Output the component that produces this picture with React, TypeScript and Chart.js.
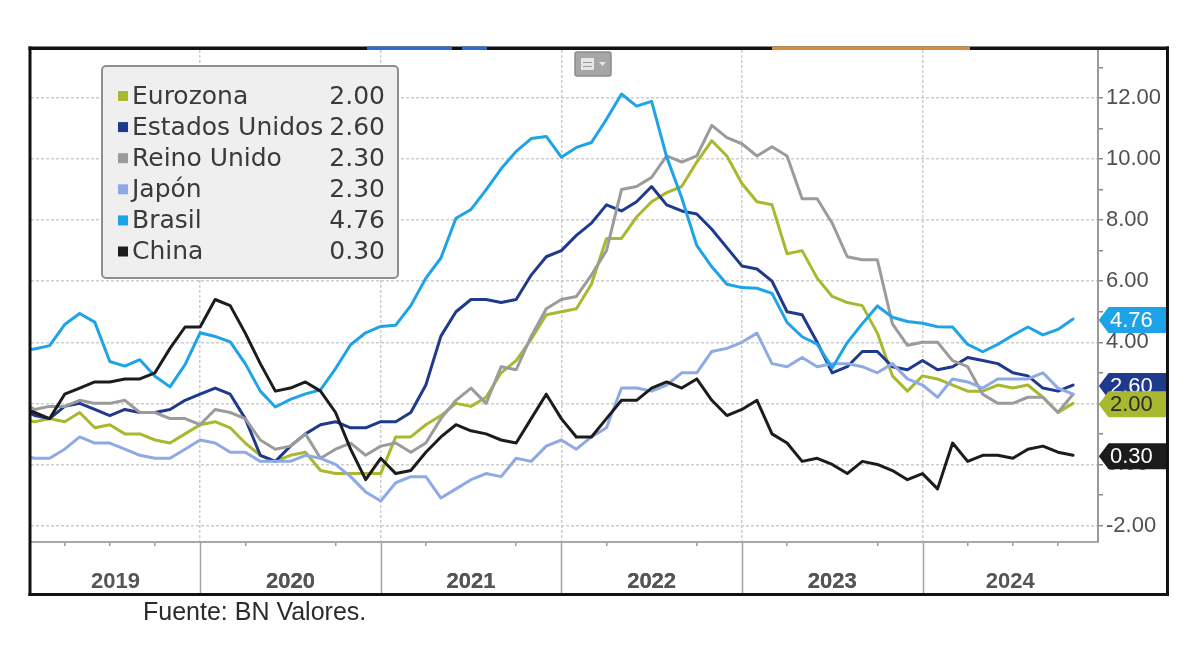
import React, { useEffect, useRef } from "react";
import { Chart, registerables } from "chart.js";

Chart.register(...registerables);

// Monthly inflation (YoY, %). Index 0 = Dec 2018, then Jan 2019 ... Oct 2024.
const firstYear = 2019;
const yearLabels = ["2019", "2020", "2021", "2022", "2023", "2024"];

const eurozona = [
  1.5,
  1.4, 1.5, 1.4, 1.7, 1.2, 1.3, 1.0, 1.0, 0.8, 0.7, 1.0, 1.3,
  1.4, 1.2, 0.7, 0.3, 0.1, 0.3, 0.4, -0.2, -0.3, -0.3, -0.3, -0.3,
  0.9, 0.9, 1.3, 1.6, 2.0, 1.9, 2.2, 3.0, 3.4, 4.1, 4.9, 5.0,
  5.1, 5.9, 7.4, 7.4, 8.1, 8.6, 8.9, 9.1, 9.9, 10.6, 10.1, 9.2,
  8.6, 8.5, 6.9, 7.0, 6.1, 5.5, 5.3, 5.2, 4.3, 2.9, 2.4, 2.9,
  2.8, 2.6, 2.4, 2.4, 2.6, 2.5, 2.6, 2.2, 1.7, 2.0,
];
const estadosUnidos = [
  1.9,
  1.6, 1.5, 1.9, 2.0, 1.8, 1.6, 1.8, 1.7, 1.7, 1.8, 2.1, 2.3,
  2.5, 2.3, 1.5, 0.3, 0.1, 0.6, 1.0, 1.3, 1.4, 1.2, 1.2, 1.4,
  1.4, 1.7, 2.6, 4.2, 5.0, 5.4, 5.4, 5.3, 5.4, 6.2, 6.8, 7.0,
  7.5, 7.9, 8.5, 8.3, 8.6, 9.1, 8.5, 8.3, 8.2, 7.7, 7.1, 6.5,
  6.4, 6.0, 5.0, 4.9, 4.0, 3.0, 3.2, 3.7, 3.7, 3.2, 3.1, 3.4,
  3.1, 3.2, 3.5, 3.4, 3.3, 3.0, 2.9, 2.5, 2.4, 2.6,
];
const reinoUnido = [
  2.1,
  1.8, 1.9, 1.9, 2.1, 2.0, 2.0, 2.1, 1.7, 1.7, 1.5, 1.5, 1.3,
  1.8, 1.7, 1.5, 0.8, 0.5, 0.6, 1.0, 0.2, 0.5, 0.7, 0.3, 0.6,
  0.7, 0.4, 0.7, 1.5, 2.1, 2.5, 2.0, 3.2, 3.1, 4.2, 5.1, 5.4,
  5.5, 6.2, 7.0, 9.0, 9.1, 9.4, 10.1, 9.9, 10.1, 11.1, 10.7, 10.5,
  10.1, 10.4, 10.1, 8.7, 8.7, 7.9, 6.8, 6.7, 6.7, 4.6, 3.9, 4.0,
  4.0, 3.4, 3.2, 2.3, 2.0, 2.0, 2.2, 2.2, 1.7, 2.3,
];
const japon = [
  0.3,
  0.2, 0.2, 0.5, 0.9, 0.7, 0.7, 0.5, 0.3, 0.2, 0.2, 0.5, 0.8,
  0.7, 0.4, 0.4, 0.1, 0.1, 0.1, 0.3, 0.2, 0.0, -0.4, -0.9, -1.2,
  -0.6, -0.4, -0.4, -1.1, -0.8, -0.5, -0.3, -0.4, 0.2, 0.1, 0.6, 0.8,
  0.5, 0.9, 1.2, 2.5, 2.5, 2.4, 2.6, 3.0, 3.0, 3.7, 3.8, 4.0,
  4.3, 3.3, 3.2, 3.5, 3.2, 3.3, 3.3, 3.2, 3.0, 3.3, 2.8, 2.6,
  2.2, 2.8, 2.7, 2.5, 2.8, 2.8, 2.8, 3.0, 2.5, 2.3,
];
const brasil = [
  3.75,
  3.78, 3.89, 4.58, 4.94, 4.66, 3.37, 3.22, 3.43, 2.89, 2.54, 3.27, 4.31,
  4.19, 4.01, 3.3, 2.4, 1.88, 2.13, 2.31, 2.44, 3.14, 3.92, 4.31, 4.52,
  4.56, 5.2, 6.1, 6.76, 8.06, 8.35, 8.99, 9.68, 10.25, 10.67, 10.74, 10.06,
  10.38, 10.54, 11.3, 12.13, 11.73, 11.89, 10.07, 8.73, 7.17, 6.47, 5.9, 5.79,
  5.77, 5.6, 4.65, 4.18, 3.94, 3.16, 3.99, 4.61, 5.19, 4.82, 4.68, 4.62,
  4.51, 4.5, 3.93, 3.69, 3.93, 4.23, 4.5, 4.24, 4.42, 4.76,
];
const china = [
  1.9,
  1.7, 1.5, 2.3, 2.5, 2.7, 2.7, 2.8, 2.8, 3.0, 3.8, 4.5, 4.5,
  5.4, 5.2, 4.3, 3.3, 2.4, 2.5, 2.7, 2.4, 1.7, 0.5, -0.5, 0.2,
  -0.3, -0.2, 0.4, 0.9, 1.3, 1.1, 1.0, 0.8, 0.7, 1.5, 2.3, 1.5,
  0.9, 0.9, 1.5, 2.1, 2.1, 2.5, 2.7, 2.5, 2.8, 2.1, 1.6, 1.8,
  2.1, 1.0, 0.7, 0.1, 0.2, 0.0, -0.3, 0.1, 0.0, -0.2, -0.5, -0.3,
  -0.8, 0.7, 0.1, 0.3, 0.3, 0.2, 0.5, 0.6, 0.4, 0.3,
];

const seriesNames = ["Eurozona", "Estados Unidos", "Reino Unido", "Japón", "Brasil", "China"];
const seriesData = [eurozona, estadosUnidos, reinoUnido, japon, brasil, china];
const seriesColors = ["#a9b82e", "#1f3a8c", "#9b9b9b", "#8eaae4", "#1ea3e8", "#1c1c1c"];
// series that carry a value tag on the right axis (drawing order)
const taggedSeries = [4, 1, 0, 5];
const tagTextColors = ["#2a2a2a", "#ffffff", "#ffffff", "#ffffff", "#ffffff", "#ffffff"];

const X_MIN = 0.764;
const X_MAX = 71.66;
// quarter tick marks, plus year-label positions centred in each visible year span
const quarterTicks: number[] = [];
for (let m = 3; m <= 69; m += 3) quarterTicks.push(m);
const labelPositions = yearLabels.map((_, i) => {
  const a = Math.max(i * 12, X_MIN);
  const b = Math.min((i + 1) * 12, X_MAX);
  return (a + b) / 2;
});
const allXTicks = [...quarterTicks, ...labelPositions].sort((a, b) => a - b);

const GRID = "rgba(200,200,200,0.9)";
const AXIS_FONT = "'Liberation Sans', Arial, sans-serif";
const LEGEND_FONT = "'DejaVu Sans', Verdana, sans-serif";

const decorPlugin = {
  id: "bloombergDecor",
  afterDraw(chart: any) {
    const ctx = chart.ctx as CanvasRenderingContext2D;
    const xs = chart.scales.x;
    const ys = chart.scales.y;
    const area = chart.chartArea;
    ctx.save();

    // year dividers below the axis
    ctx.strokeStyle = "#a3a3a3";
    ctx.lineWidth = 1.5;
    for (let m = 12; m <= 60; m += 12) {
      const x = Math.round(xs.getPixelForValue(m)) + 0.5;
      ctx.beginPath();
      ctx.moveTo(x, area.bottom);
      ctx.lineTo(x, 593);
      ctx.stroke();
    }

    // value tags on the right axis
    ctx.font = `22px ${AXIS_FONT}`;
    ctx.textBaseline = "middle";
    ctx.textAlign = "left";
    taggedSeries.forEach((si) => {
      const data = seriesData[si];
      const v = data[data.length - 1];
      const y = ys.getPixelForValue(v) + 1;
      const h = 24;
      const x0 = area.right + 2;
      const x1 = x0 + 9;
      const x2 = 1168;
      ctx.beginPath();
      ctx.moveTo(x0, y);
      ctx.lineTo(x1, y - h / 2);
      ctx.lineTo(x2, y - h / 2);
      ctx.lineTo(x2, y + h / 2);
      ctx.lineTo(x1, y + h / 2);
      ctx.closePath();
      ctx.fillStyle = seriesColors[si];
      ctx.strokeStyle = seriesColors[si];
      ctx.lineJoin = "round";
      ctx.lineWidth = 2;
      ctx.fill();
      ctx.stroke();
      ctx.fillStyle = tagTextColors[si];
      ctx.fillText(v.toFixed(2), x1 + 1, y + 1);
    });

    // legend box
    const lx = 102, ly = 66, lw = 296, lh = 212;
    ctx.beginPath();
    ctx.roundRect(lx, ly, lw, lh, 4);
    ctx.fillStyle = "#efefef";
    ctx.fill();
    ctx.lineWidth = 2;
    ctx.strokeStyle = "#8f8f8f";
    ctx.stroke();
    ctx.font = `25px ${LEGEND_FONT}`;
    ctx.textBaseline = "middle";
    seriesNames.forEach((name, i) => {
      const cy = 96 + i * 31.1;
      ctx.fillStyle = seriesColors[i];
      ctx.fillRect(118, cy - 5, 10, 10);
      ctx.fillStyle = "#3a3a3a";
      ctx.textAlign = "left";
      ctx.fillText(name, 132, cy + 1);
      ctx.textAlign = "right";
      const d = seriesData[i];
      ctx.fillText(d[d.length - 1].toFixed(2), 385, cy + 1);
    });

    // outer frame
    ctx.fillStyle = "#111111";
    ctx.fillRect(28.5, 46.5, 1140.5, 3.5);
    ctx.fillRect(28.5, 46.5, 3, 549.5);
    ctx.fillRect(28.5, 593, 1140.5, 3);
    ctx.fillRect(1166, 46.5, 3, 549.5);
    // coloured toolbar segments on the top border
    ctx.fillStyle = "#2e6bd1";
    ctx.fillRect(367, 46.5, 85, 3.5);
    ctx.fillRect(462, 46.5, 25, 3.5);
    ctx.fillStyle = "#d88b3e";
    ctx.fillRect(772, 46.5, 198, 3.5);

    // small toolbar icon
    ctx.beginPath();
    ctx.roundRect(575, 52, 36, 24, 2);
    ctx.fillStyle = "#a6a6a6";
    ctx.fill();
    ctx.strokeStyle = "#8c8c8c";
    ctx.lineWidth = 1.5;
    ctx.stroke();
    ctx.fillStyle = "#e6e6e6";
    ctx.fillRect(581, 58, 13, 12);
    ctx.strokeStyle = "#9a9a9a";
    ctx.lineWidth = 1;
    ctx.beginPath();
    ctx.moveTo(583, 62.5); ctx.lineTo(592, 62.5);
    ctx.moveTo(583, 66.5); ctx.lineTo(592, 66.5);
    ctx.stroke();
    ctx.fillStyle = "#e6e6e6";
    ctx.beginPath();
    ctx.moveTo(599, 62); ctx.lineTo(606, 62); ctx.lineTo(602.5, 66);
    ctx.closePath();
    ctx.fill();

    ctx.restore();
  },
};

const isLabelTick = (v: number) => labelPositions.some((p) => Math.abs(p - v) < 1e-6);

export default function App() {
  const ref = useRef<HTMLCanvasElement>(null);

  useEffect(() => {
    const canvas = ref.current;
    if (!canvas) return;
    const datasets = seriesData.map((d, i) => ({
      label: seriesNames[i],
      data: d.map((v, m) => ({ x: m, y: v })),
      borderColor: seriesColors[i],
      backgroundColor: seriesColors[i],
      borderWidth: 3,
      pointRadius: 0,
      pointHoverRadius: 0,
      tension: 0,
      borderJoinStyle: "round" as const,
      borderCapStyle: "round" as const,
      fill: false,
      order: 6 - i,
    }));

    const chart = new Chart(canvas, {
      type: "line",
      data: { datasets },
      options: {
        responsive: false,
        maintainAspectRatio: false,
        animation: false,
        devicePixelRatio: 1,
        layout: { padding: { left: 31, right: 33, top: 50, bottom: 72 } },
        plugins: {
          legend: { display: false },
          tooltip: { enabled: false },
        },
        scales: {
          x: {
            type: "linear",
            position: "bottom",
            min: X_MIN,
            max: X_MAX,
            afterBuildTicks: (s: any) => {
              s.ticks = allXTicks.map((v) => ({ value: v }));
            },
            afterFit: (s: any) => {
              s.height = 51;
            },
            ticks: {
              autoSkip: false,
              maxRotation: 0,
              minRotation: 0,
              padding: 23,
              color: "#555555",
              font: { family: AXIS_FONT, size: 22, weight: "bold" },
              callback: (v: any) => {
                const idx = labelPositions.findIndex((p) => Math.abs(p - Number(v)) < 1e-6);
                return idx >= 0 ? String(firstYear + idx) : "";
              },
            },
            grid: {
              color: (c: any) => (c.tick && c.tick.value % 12 === 0 ? GRID : "rgba(0,0,0,0)"),
              lineWidth: 1.5,
              tickLength: 4,
              tickWidth: 1.5,
              tickColor: (c: any) =>
                !c.tick || c.tick.value % 12 === 0 || isLabelTick(c.tick.value) ? "rgba(0,0,0,0)" : "#9a9a9a",
            },
            border: { display: true, color: "#a8a8a8", width: 2, dash: [3, 2] },
          },
          y: {
            type: "linear",
            position: "right",
            min: -2.54,
            max: 13.57,
            afterFit: (s: any) => {
              s.width = 69;
            },
            ticks: {
              stepSize: 1,
              includeBounds: false,
              autoSkip: false,
              padding: 3,
              color: "#505050",
              font: { family: AXIS_FONT, size: 22 },
              callback: (v: any) => (Math.round(Number(v)) % 2 === 0 ? Number(v).toFixed(2) : ""),
            },
            grid: {
              color: (c: any) =>
                c.tick && Math.round(c.tick.value) % 2 === 0 ? GRID : "rgba(0,0,0,0)",
              lineWidth: 1.5,
              tickLength: 5,
              tickWidth: 1.5,
              tickColor: "#8a8a8a",
            },
            border: { display: true, color: "#9a9a9a", width: 2, dash: [3, 2] },
          },
        },
      },
      plugins: [decorPlugin],
    });
    return () => chart.destroy();
  }, []);

  return (
    <div style={{ position: "absolute", left: 0, top: 0, width: 1200, height: 665, background: "#ffffff" }}>
      <canvas ref={ref} width={1200} height={665} style={{ display: "block", width: 1200, height: 665 }} />
      <div
        style={{
          position: "absolute",
          left: 143,
          top: 599,
          font: "25px 'Liberation Sans', Arial, sans-serif",
          lineHeight: "25px",
          color: "#2b2b2b",
          whiteSpace: "nowrap",
        }}
      >
        Fuente: BN Valores.
      </div>
    </div>
  );
}
